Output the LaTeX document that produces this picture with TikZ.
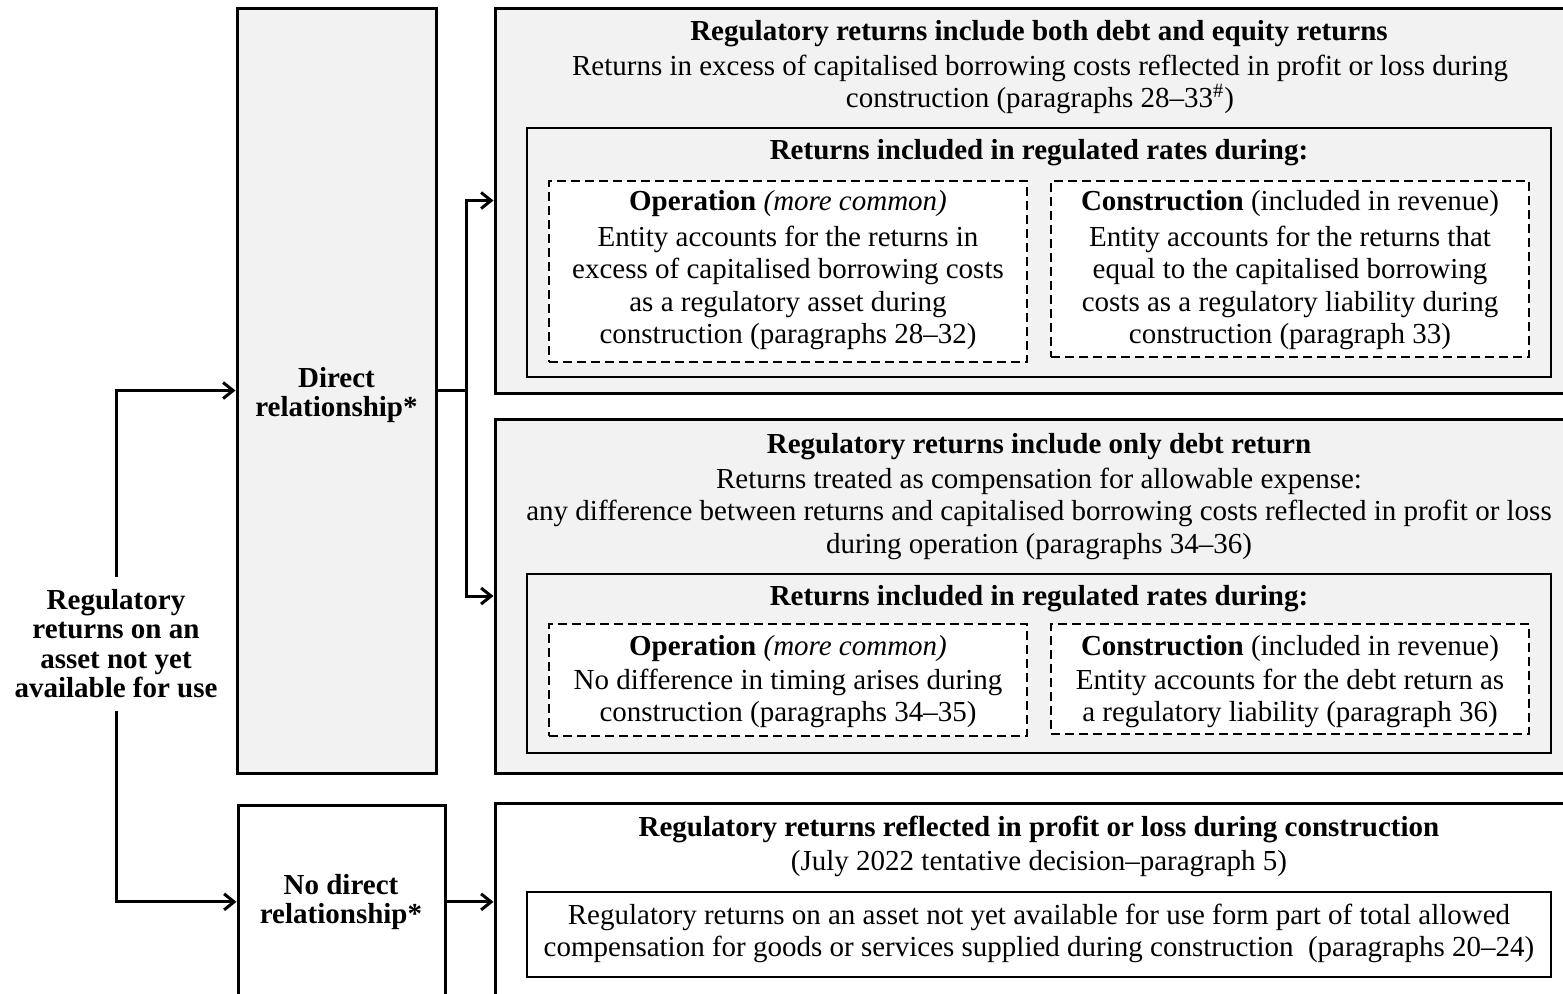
\documentclass[tikz,border=0pt]{standalone}
\usepackage{fontspec}
\setmainfont{Liberation Serif}
\usetikzlibrary{arrows.meta,fit}
\definecolor{boxgray}{HTML}{F2F2F2}
\tikzset{
  outerbox/.style={draw=black, line width=1.5pt, inner sep=0pt},
  innerbox/.style={draw=black, line width=0.7pt, inner sep=0pt},
  dashbox/.style={draw=black, line width=0.8pt, dash pattern=on 4.5pt off 2.5pt, fill=white, inner sep=0pt},
  txt/.style={font=\fontsize{14.5}{16.2}\selectfont, align=center, inner sep=0pt, anchor=north},
  ttl/.style={txt, font=\fontsize{14.5}{16.2}\selectfont\bfseries},
  lbl/.style={font=\fontsize{14.5}{14.8}\selectfont\bfseries, align=center, inner sep=0pt, anchor=north},
  conn/.style={line width=1.5pt},
  arr/.style={conn, -{Straight Barb[length=5pt,width=8pt]}},
}
\begin{document}
\begin{tikzpicture}[x=0.5pt,y=-0.5pt]
\useasboundingbox (0,0) rectangle (1563,993);
\clip (0,0) rectangle (1563,993);

% left column
\node[lbl, inner sep=6pt] (root) at (116,576.5) {Regulatory\\returns on an\\asset not yet\\available for use};

\node[outerbox, fill=boxgray, fit={(237,8) (436,773)}] (direct) {};
\node[lbl] (dtxt) at (336.5,366.5) {Direct\\relationship*};

\node[outerbox, fill=white, fit={(238,805) (445,1015)}] (nodirect) {};
\node[lbl] (ndtxt) at (341,873.5) {No direct\\relationship*};

% box A
\node[outerbox, fill=boxgray, fit={(495,8) (1620,393)}] (A) {};
\node[ttl] (Atitle) at (1039,19.5) {Regulatory returns include both debt and equity returns};
\node[txt] (Abody) at (1040,54.5) {Returns in excess of capitalised borrowing costs reflected in profit or loss during\\construction (paragraphs 28–33\textsuperscript{\#})};
\node[innerbox, fill=boxgray, fit={(527,128) (1551,377)}] (A1) {};
\node[ttl] (A1title) at (1039,138.5) {Returns included in regulated rates during:};
\node[dashbox, fit={(549,181) (1027,362)}] (A1a) {};
\node[txt] (A1ahead) at (788,189.5) {\textbf{Operation} \textit{(more common)}};
\node[txt] (A1abody) at (788,225.5) {Entity accounts for the returns in\\excess of capitalised borrowing costs\\as a regulatory asset during\\construction (paragraphs 28–32)};
\node[dashbox, fit={(1051,181) (1529,357)}] (A1b) {};
\node[txt] (A1bhead) at (1290,189.5) {\textbf{Construction} (included in revenue)};
\node[txt] (A1bbody) at (1290,225.5) {Entity accounts for the returns that\\equal to the capitalised borrowing\\costs as a regulatory liability during\\construction (paragraph 33)};

% box B
\node[outerbox, fill=boxgray, fit={(495,419) (1620,773)}] (B) {};
\node[ttl] (Btitle) at (1039,432.5) {Regulatory returns include only debt return};
\node[txt] (Bbody) at (1039,467.5) {Returns treated as compensation for allowable expense:\\any difference between returns and capitalised borrowing costs reflected in profit or loss\\during operation (paragraphs 34–36)};
\node[innerbox, fill=boxgray, fit={(527,574) (1551,753)}] (B1) {};
\node[ttl] (B1title) at (1039,584.5) {Returns included in regulated rates during:};
\node[dashbox, fit={(549,624) (1027,736)}] (B1a) {};
\node[txt] (B1ahead) at (788,634.5) {\textbf{Operation} \textit{(more common)}};
\node[txt] (B1abody) at (788,668.5) {No difference in timing arises during\\construction (paragraphs 34–35)};
\node[dashbox, fit={(1051,624) (1529,734)}] (B1b) {};
\node[txt] (B1bhead) at (1290,634.5) {\textbf{Construction} (included in revenue)};
\node[txt] (B1bbody) at (1290,668.5) {Entity accounts for the debt return as\\a regulatory liability (paragraph 36)};

% box C
\node[outerbox, fill=white, fit={(495,803) (1620,1015)}] (C) {};
\node[ttl] (Ctitle) at (1039,815.5) {Regulatory returns reflected in profit or loss during construction};
\node[txt] (Csub) at (1039,849.5) {(July 2022 tentative decision–paragraph 5)};
\node[innerbox, fill=white, fit={(527,892) (1551,977)}] (C1) {};
\node[txt] (C1body) at (1039,903.5) {Regulatory returns on an asset not yet available for use form part of total allowed\\compensation for goods or services supplied during construction\ \ (paragraphs 20–24)};

% connectors
\draw[arr] (root.north) |- (direct.west);
\draw[arr] (root.south) |- (nodirect.west |- ndtxt.center);
\draw[conn] (direct.east) -- ++(29,0) coordinate (split);
\draw[arr] (split) |- (A.west);
\draw[arr] (split) |- (B.west);
\draw[arr] (nodirect.east |- ndtxt.center) -- (C.west |- ndtxt.center);
\end{tikzpicture}
\end{document}
